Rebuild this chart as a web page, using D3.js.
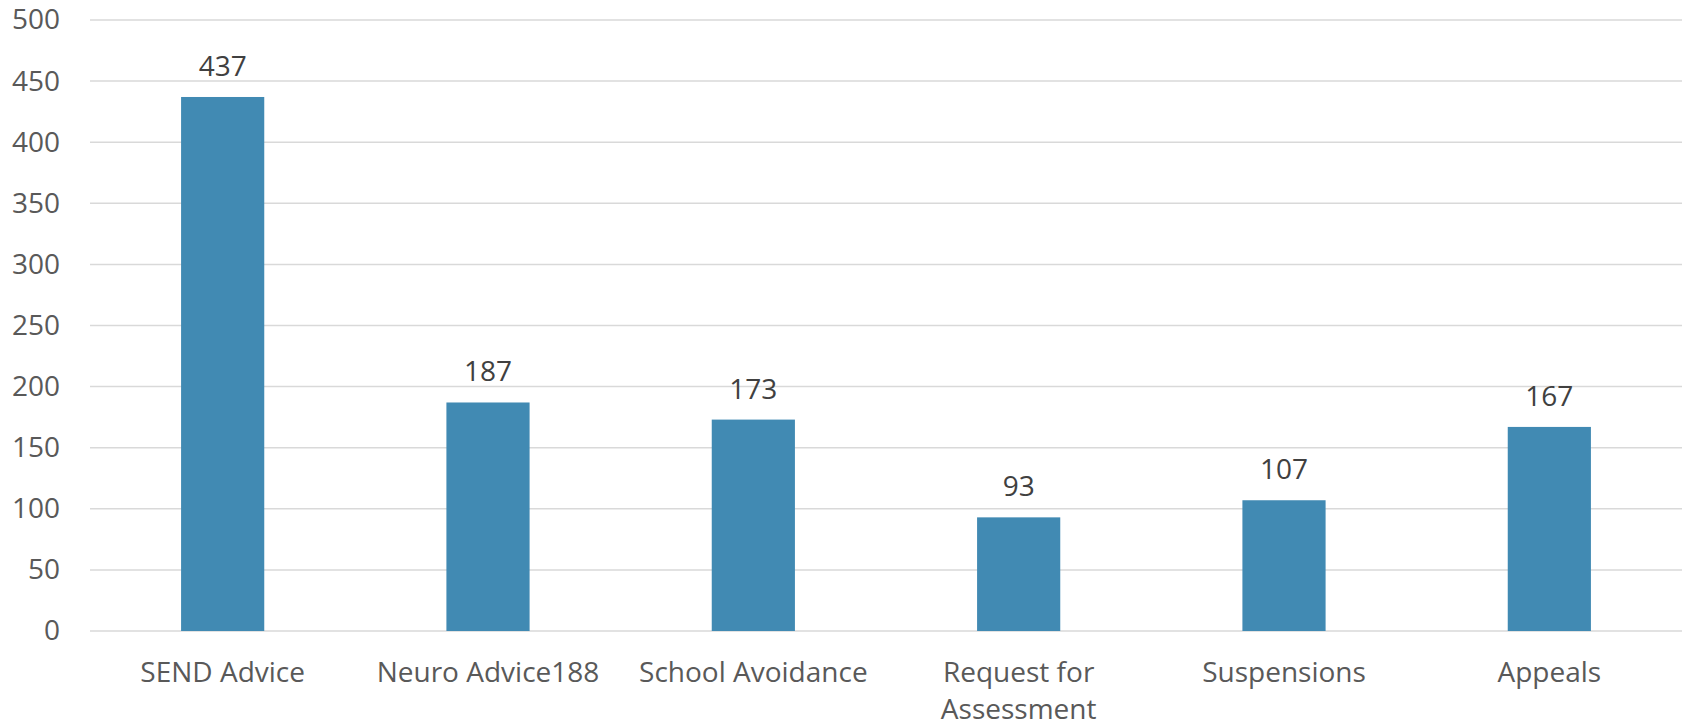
<!DOCTYPE html>
<html><head><meta charset="utf-8">
<script src="https://cdn.jsdelivr.net/npm/d3@7"></script>
<style>body{margin:0;background:#fff;}svg{display:block;}</style>
</head><body>
<svg id="chart" width="1692" height="728"></svg>
<script>
const categories = [["SEND Advice"], ["Neuro Advice188"], ["School Avoidance"], ["Request for", "Assessment"], ["Suspensions"], ["Appeals"]];
const values = [437, 187, 173, 93, 107, 167];
const yTicks = [0, 50, 100, 150, 200, 250, 300, 350, 400, 450, 500];

(function () {
const svg = d3.select("#chart");
const mLeft = 90, mRight = 1682, mTop = 20, mBottom = 631;
const font = "'Open Sans', sans-serif";
const fs = 28;
const x = d3.scaleBand().domain(d3.range(categories.length)).range([mLeft, mRight]).padding(0);
const y = d3.scaleLinear().domain([0, 500]).range([mBottom, mTop]);
const barW = x.bandwidth() / 3.19;

// gridlines
svg.append("g").selectAll("line").data(yTicks).join("line")
  .attr("x1", mLeft).attr("x2", mRight)
  .attr("y1", d => y(d)).attr("y2", d => y(d))
  .attr("stroke", "#d9d9d9").attr("stroke-width", 1.5);

// y labels
const yAxis = d3.axisLeft(y).tickValues(yTicks).tickSize(0).tickPadding(0);
const ya = svg.append("g").attr("transform", `translate(60,0)`).call(yAxis);
ya.select(".domain").remove();
ya.selectAll("text").attr("font-family", font).attr("font-size", fs).attr("fill", "#595959");

// bars
svg.append("g").selectAll("rect").data(values).join("rect")
  .attr("x", (d, i) => x(i) + x.bandwidth() / 2 - barW / 2)
  .attr("width", barW)
  .attr("y", d => y(d))
  .attr("height", d => y(0) - y(d))
  .attr("fill", "#418ab3");

// value labels
svg.append("g").selectAll("text").data(values).join("text")
  .attr("x", (d, i) => x(i) + x.bandwidth() / 2)
  .attr("y", d => y(d) - 21)
  .attr("text-anchor", "middle")
  .attr("font-family", font).attr("font-size", fs).attr("fill", "#404040")
  .text(d => d);

// category labels
const cg = svg.append("g").selectAll("text").data(categories).join("text")
  .attr("x", (d, i) => x(i) + x.bandwidth() / 2)
  .attr("y", 682)
  .attr("text-anchor", "middle")
  .attr("font-family", font).attr("font-size", fs).attr("fill", "#595959");
cg.selectAll("tspan").data(d => d).join("tspan")
  .attr("x", function() { return this.parentNode.getAttribute("x"); })
  .attr("dy", (d, i) => i === 0 ? 0 : 36.5)
  .text(d => d);
})();
</script>
</body></html>
